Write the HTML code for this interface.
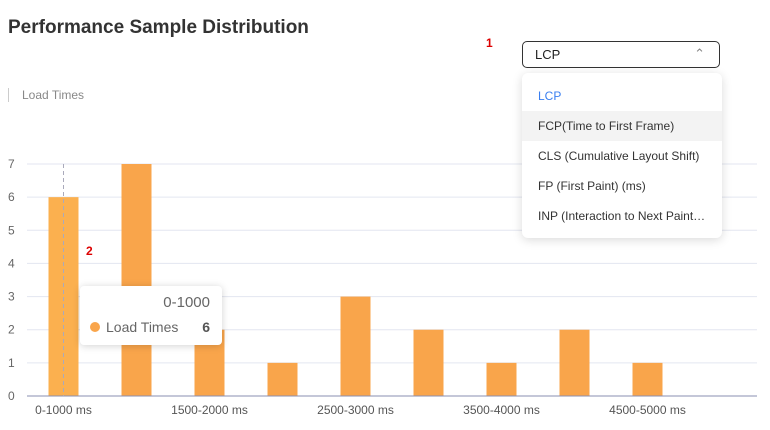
<!DOCTYPE html>
<html><head><meta charset="utf-8"><style>
body{margin:0;width:770px;height:430px;background:#fff;font-family:"Liberation Sans",sans-serif;position:relative;overflow:hidden}
.title{position:absolute;left:8px;top:17px;font-size:19px;font-weight:bold;color:#333}
.legend{position:absolute;left:8px;top:88px;font-size:12px;color:#888;border-left:1px solid #ccc;padding-left:13px;height:14px;line-height:14px}
.sel{position:absolute;left:522px;top:41px;width:198px;height:27px;border:1px solid #333;border-radius:5px;box-sizing:border-box;font-size:13px;line-height:25px;padding-left:12px;color:#222}
.menu{position:absolute;left:522px;top:73px;width:200px;height:165px;background:#fff;border-radius:6px;box-shadow:0 2px 10px rgba(0,0,0,.15);font-size:12px;color:#333}
.menu div{position:absolute;left:0;width:200px;height:30px;line-height:30px;padding-left:16px;box-sizing:border-box}
.tip{position:absolute;left:80px;top:286px;width:142px;height:59px;background:#fff;border-radius:4px;box-shadow:0 1px 8px rgba(0,0,0,.18);font-size:14px;color:#666}
</style></head><body>
<div class="title">Performance Sample Distribution</div>
<div style="position:absolute;left:486px;top:36px;color:#d00;font-size:12px;font-weight:bold">1</div>
<div class="legend">Load Times</div>
<svg id="chart" width="770" height="430" style="position:absolute;left:0;top:0"></svg>
<div style="position:absolute;left:86px;top:244px;color:#d00;font-size:12px;font-weight:bold">2</div>
<div class="tip">
<div style="position:absolute;right:12px;top:8px;font-size:15px">0-1000</div>
<div style="position:absolute;left:10px;top:36px;width:10px;height:10px;border-radius:50%;background:#f9a54b"></div>
<div style="position:absolute;left:26px;top:33px">Load Times</div>
<div style="position:absolute;right:12px;top:33px;font-weight:bold;color:#555">6</div>
</div>
<div class="sel">LCP<span style="position:absolute;right:14px;top:-1px;color:#888">&#8963;</span></div>
<div class="menu">
<div style="top:8px;color:#3a7ff0">LCP</div>
<div style="top:38px;background:#f3f3f3">FCP(Time to First Frame)</div>
<div style="top:68px">CLS (Cumulative Layout Shift)</div>
<div style="top:98px">FP (First Paint) (ms)</div>
<div style="top:128px">INP (Interaction to Next Paint…</div>
</div>
<script>
const categories=["0-1000","1000-1500","1500-2000","2000-2500","2500-3000","3000-3500","3500-4000","4000-4500","4500-5000","5000+"];
const values=[6,7,2,1,3,2,1,2,1,0];
const yTicks=[0,1,2,3,4,5,6,7];
const x0=27,x1=757,y0=396,yTop=164,yMax=7;
const svg=document.getElementById('chart');const NS='http://www.w3.org/2000/svg';
const bw=(x1-x0)/categories.length;
const xs=i=>x0+bw*(i+0.5);
const ys=v=>y0-(y0-yTop)*v/yMax;
function mk(t,a){const e=document.createElementNS(NS,t);for(const k in a)e.setAttribute(k,a[k]);svg.appendChild(e);return e;}
yTicks.forEach(v=>{
 if(v>0){const l=mk('line',{x1:x0,x2:x1,y1:ys(v),y2:ys(v),stroke:'#e3e6f0'});
 
 }
 const t=mk('text',{x:8,y:ys(v)+4,'font-size':12,fill:'#666'});t.textContent=v;
 
 
});
values.forEach((v,i)=>{
 const r=mk('rect',{x:xs(i)-15,y:ys(v),width:30,height:y0-ys(v),fill:i===0?'#fbb04f':'#f9a54b'});
 
 
 if(i%2===0&&i<9){const t=mk('text',{x:xs(i),y:414,'font-size':12,fill:'#555','text-anchor':'middle'});t.textContent=categories[i]+' ms';
 
 }
});
const ax=mk('line',{x1:x0,x2:x1,y1:y0,y2:y0,stroke:'#8a8fb0'});


const cl=mk('line',{x1:xs(0),x2:xs(0),y1:yTop,y2:y0,stroke:'#aab','stroke-dasharray':'4,3'});


</script>
</body></html>
